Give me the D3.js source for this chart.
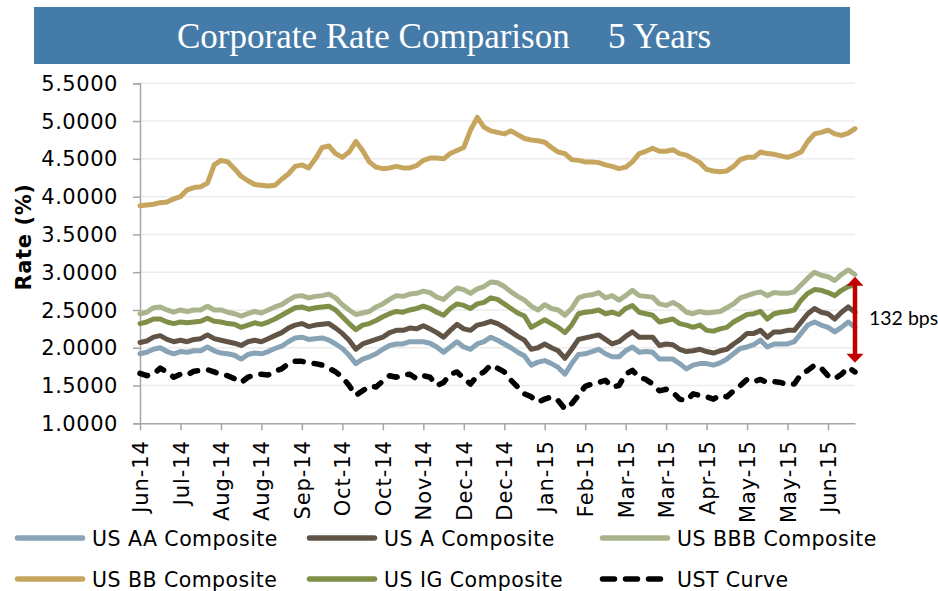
<!DOCTYPE html>
<html>
<head>
<meta charset="utf-8">
<script src="https://cdn.jsdelivr.net/npm/d3@7"></script>
<style>
  html, body { margin: 0; padding: 0; background: #fff; }
  svg { display: block; }
</style>
</head>
<body>
<svg id="chart" width="938" height="591"></svg>
<script>
// ---------------- DATA ----------------
const titleMain = "Corporate Rate Comparison";
const titleSub = "5 Years";
const yAxisTitle = "Rate (%)";
const xTickLabels = ["Jun-14","Jul-14","Aug-14","Aug-14","Sep-14","Oct-14","Oct-14","Nov-14","Dec-14","Dec-14","Jan-15","Feb-15","Mar-15","Mar-15","Apr-15","May-15","May-15","Jun-15"];
const pointsPerTick = 6;
const yTickValues = [1.0,1.5,2.0,2.5,3.0,3.5,4.0,4.5,5.0,5.5];

const seriesNames = ["US AA Composite","US A Composite","US BBB Composite","US BB Composite","US IG Composite","UST Curve"];

const usAA = [1.92,1.94,1.98,2.00,1.95,1.92,1.95,1.94,1.96,1.96,2.01,1.96,1.93,1.92,1.90,1.85,1.91,1.93,1.92,1.95,1.99,2.02,2.08,2.13,2.14,2.11,2.12,2.13,2.10,2.05,1.99,1.90,1.79,1.85,1.88,1.92,1.98,2.03,2.05,2.05,2.08,2.08,2.08,2.06,2.01,1.94,2.01,2.08,2.01,1.98,2.05,2.08,2.14,2.10,2.05,2.00,1.94,1.89,1.77,1.81,1.83,1.79,1.74,1.65,1.79,1.91,1.92,1.95,1.98,1.92,1.88,1.88,1.96,2.01,1.94,1.95,1.94,1.85,1.85,1.85,1.79,1.72,1.77,1.79,1.79,1.77,1.80,1.85,1.92,1.99,2.01,2.04,2.10,2.01,2.05,2.05,2.05,2.08,2.19,2.30,2.34,2.30,2.27,2.21,2.27,2.34,2.27];

const usA = [2.07,2.09,2.14,2.16,2.11,2.08,2.10,2.08,2.11,2.12,2.17,2.12,2.10,2.08,2.06,2.03,2.08,2.10,2.08,2.12,2.16,2.20,2.26,2.30,2.32,2.28,2.30,2.31,2.32,2.26,2.19,2.10,1.98,2.05,2.08,2.11,2.14,2.20,2.23,2.23,2.26,2.25,2.29,2.25,2.20,2.14,2.23,2.31,2.25,2.23,2.30,2.32,2.35,2.32,2.27,2.21,2.15,2.10,1.98,2.00,2.05,2.00,1.96,1.86,1.98,2.11,2.13,2.15,2.17,2.11,2.05,2.08,2.15,2.21,2.14,2.14,2.14,2.03,2.05,2.04,1.98,1.95,1.96,1.98,1.95,1.93,1.96,1.98,2.05,2.11,2.19,2.19,2.23,2.14,2.21,2.21,2.23,2.23,2.34,2.45,2.52,2.47,2.45,2.38,2.47,2.54,2.47];

const usBBB = [2.45,2.47,2.53,2.54,2.50,2.47,2.50,2.48,2.50,2.50,2.55,2.50,2.50,2.47,2.45,2.42,2.45,2.48,2.46,2.50,2.54,2.57,2.63,2.68,2.69,2.66,2.68,2.69,2.71,2.66,2.57,2.50,2.44,2.46,2.48,2.54,2.58,2.64,2.69,2.68,2.71,2.72,2.75,2.73,2.67,2.64,2.72,2.79,2.77,2.72,2.78,2.81,2.87,2.86,2.81,2.74,2.68,2.63,2.55,2.50,2.57,2.52,2.50,2.43,2.52,2.66,2.69,2.70,2.73,2.66,2.69,2.63,2.69,2.76,2.69,2.68,2.67,2.58,2.56,2.60,2.55,2.47,2.45,2.48,2.46,2.47,2.48,2.53,2.58,2.66,2.69,2.72,2.74,2.69,2.73,2.72,2.72,2.74,2.83,2.92,3.00,2.96,2.94,2.89,2.97,3.03,2.97];

const usBB = [3.88,3.89,3.90,3.92,3.93,3.97,4.00,4.09,4.12,4.13,4.18,4.42,4.48,4.46,4.37,4.27,4.21,4.16,4.15,4.14,4.15,4.23,4.30,4.40,4.42,4.38,4.50,4.65,4.67,4.57,4.52,4.59,4.73,4.61,4.46,4.39,4.37,4.38,4.40,4.38,4.38,4.41,4.48,4.51,4.51,4.50,4.57,4.61,4.65,4.88,5.05,4.92,4.87,4.85,4.83,4.87,4.82,4.77,4.75,4.74,4.72,4.65,4.59,4.57,4.49,4.48,4.46,4.46,4.45,4.42,4.40,4.37,4.39,4.46,4.57,4.60,4.64,4.60,4.60,4.62,4.57,4.55,4.50,4.45,4.36,4.34,4.33,4.34,4.40,4.49,4.52,4.52,4.59,4.57,4.56,4.54,4.52,4.55,4.59,4.73,4.83,4.85,4.88,4.83,4.81,4.84,4.90];

const usIG = [2.32,2.34,2.38,2.38,2.34,2.32,2.34,2.33,2.34,2.35,2.39,2.35,2.34,2.32,2.31,2.27,2.30,2.33,2.31,2.34,2.38,2.43,2.48,2.53,2.54,2.51,2.53,2.54,2.55,2.50,2.41,2.32,2.24,2.30,2.32,2.36,2.41,2.45,2.48,2.47,2.50,2.52,2.55,2.52,2.47,2.43,2.52,2.58,2.56,2.52,2.58,2.60,2.66,2.64,2.58,2.52,2.46,2.42,2.27,2.32,2.37,2.32,2.27,2.20,2.30,2.45,2.47,2.48,2.50,2.45,2.47,2.44,2.52,2.56,2.47,2.45,2.43,2.34,2.36,2.38,2.32,2.30,2.27,2.30,2.23,2.22,2.25,2.27,2.34,2.39,2.44,2.45,2.48,2.38,2.45,2.47,2.48,2.50,2.63,2.72,2.77,2.76,2.73,2.69,2.76,2.81,2.83];

const ustCurve = [1.66,1.63,1.65,1.73,1.68,1.61,1.65,1.64,1.69,1.70,1.71,1.68,1.65,1.63,1.59,1.54,1.61,1.64,1.65,1.64,1.69,1.72,1.79,1.82,1.82,1.80,1.79,1.77,1.73,1.68,1.61,1.50,1.37,1.43,1.49,1.48,1.56,1.63,1.61,1.64,1.65,1.59,1.63,1.61,1.50,1.54,1.65,1.68,1.59,1.52,1.63,1.68,1.77,1.73,1.68,1.57,1.48,1.39,1.35,1.28,1.32,1.35,1.30,1.19,1.26,1.37,1.49,1.52,1.54,1.57,1.48,1.50,1.65,1.70,1.61,1.58,1.52,1.43,1.45,1.41,1.32,1.30,1.39,1.37,1.35,1.32,1.37,1.35,1.43,1.50,1.58,1.55,1.58,1.54,1.55,1.54,1.51,1.52,1.65,1.70,1.77,1.73,1.63,1.59,1.65,1.74,1.68];

const spreadLabel = "132 bps";
const spreadArrowRange = [2.94, 1.80];

// ---------------- STYLE ----------------
const colors = ["#87a3b5", "#615446", "#aab48c", "#c6a65e", "#7f8f48", "#000000"];
const seriesData = [usAA, usA, usBBB, usBB, usIG, ustCurve];

const svg = d3.select("#chart");
const plot = { left: 140, right: 855, top: 83.3, bottom: 423.3 };

// Title banner
svg.append("rect").attr("x", 34).attr("y", 7).attr("width", 816).attr("height", 57).attr("fill", "#457ba9");
svg.append("text").attr("x", 177).attr("y", 48)
  .attr("font-family", "Liberation Serif, DejaVu Serif, serif").attr("font-size", 35)
  .attr("fill", "#fff").text(titleMain);
svg.append("text").attr("x", 608).attr("y", 48)
  .attr("font-family", "Liberation Serif, DejaVu Serif, serif").attr("font-size", 35)
  .attr("fill", "#fff").text(titleSub);

// Scales
const n = usBB.length;
const x = d3.scaleLinear().domain([0, n - 1]).range([plot.left, plot.right]);
const y = d3.scaleLinear().domain([1, 5.5]).range([plot.bottom, plot.top]);

// Gridlines
svg.append("g").selectAll("line").data(yTickValues.filter(v => v > 1)).join("line")
  .attr("x1", plot.left).attr("x2", plot.right)
  .attr("y1", d => y(d)).attr("y2", d => y(d))
  .attr("stroke", "#ececec").attr("stroke-width", 1.5);

const axisFont = "DejaVu Sans, Verdana, sans-serif";

// Y axis
const yAxis = svg.append("g").attr("transform", `translate(${plot.left},0)`)
  .call(d3.axisLeft(y).tickValues(yTickValues).tickFormat(d3.format(".4f")).tickSize(7).tickPadding(15));
yAxis.select(".domain").attr("stroke", "#a6a6a6").attr("stroke-width", 1.5);
yAxis.selectAll(".tick line").attr("stroke", "#a6a6a6").attr("stroke-width", 1.5);
yAxis.selectAll(".tick text").attr("font-family", axisFont).attr("font-size", 21)
  .attr("letter-spacing", "0.55px").attr("fill", "#000").attr("dy", "0.34em");

// X axis
const xTickIdx = xTickLabels.map((_, i) => i * pointsPerTick);
const xAxis = svg.append("g").attr("transform", `translate(0,${plot.bottom})`)
  .call(d3.axisBottom(x).tickValues(xTickIdx).tickFormat((d) => xTickLabels[d / pointsPerTick]).tickSize(7).tickPadding(10).tickSizeOuter(0));
xAxis.select(".domain").attr("stroke", "#a6a6a6").attr("stroke-width", 1.5);
xAxis.selectAll(".tick line").attr("stroke", "#a6a6a6").attr("stroke-width", 1.5);
xAxis.selectAll(".tick text")
  .attr("font-family", axisFont).attr("font-size", 21).attr("letter-spacing", "0.9px").attr("fill", "#000")
  .attr("transform", "rotate(-90)")
  .attr("text-anchor", "end")
  .attr("x", -17).attr("y", 0).attr("dy", "0.36em");

// Y axis title
svg.append("text").attr("transform", "translate(31,237) rotate(-90)")
  .attr("text-anchor", "middle")
  .attr("font-family", axisFont).attr("font-weight", "bold").attr("font-size", 21)
  .attr("letter-spacing", "0.6px")
  .attr("fill", "#000").text(yAxisTitle);

// Lines
const line = d3.line().x((d, i) => x(i)).y(d => y(d)).curve(d3.curveLinear);
seriesData.forEach((s, k) => {
  const p = svg.append("path").datum(s)
    .attr("d", line).attr("fill", "none")
    .attr("stroke", colors[k]).attr("stroke-width", 5)
    .attr("stroke-linejoin", "round").attr("stroke-linecap", "round");
  if (k === 5) p.attr("stroke-dasharray", "8,11").attr("stroke-width", 5.5);
});

// Spread arrow
const ax = plot.right;
const yTop = y(spreadArrowRange[0]), yBot = y(spreadArrowRange[1]);
const headL = 9, headW = 8.5;
svg.append("line").attr("x1", ax).attr("x2", ax).attr("y1", yTop + headL - 1).attr("y2", yBot - headL + 1)
  .attr("stroke", "#c00000").attr("stroke-width", 4.5);
svg.append("path").attr("d", `M${ax},${yTop} L${ax + headW},${yTop + headL} L${ax - headW},${yTop + headL} Z`).attr("fill", "#c00000");
svg.append("path").attr("d", `M${ax},${yBot} L${ax + headW},${yBot - headL} L${ax - headW},${yBot - headL} Z`).attr("fill", "#c00000");
svg.append("text").attr("x", 869).attr("y", 325)
  .attr("font-family", "Lato, Noto Sans, sans-serif").attr("font-size", 19.5)
  .attr("fill", "#000").text(spreadLabel);

// Legend
const legendPos = [[15, 538], [307, 538], [600, 538], [15, 579], [307, 579], [600, 579]];
seriesNames.forEach((name, k) => {
  const [lx, ly] = legendPos[k];
  const g = svg.append("g");
  const ln = g.append("line").attr("x1", lx + 2.5).attr("x2", lx + 67.5).attr("y1", ly).attr("y2", ly)
    .attr("stroke", colors[k]).attr("stroke-width", 5.5).attr("stroke-linecap", "round");
  if (k === 5) ln.attr("stroke-dasharray", "12,11").attr("x2", lx + 69);
  g.append("text").attr("x", lx + 77).attr("y", ly + 7.5)
    .attr("font-family", axisFont).attr("font-size", 20.5).attr("letter-spacing", "0.45px")
    .attr("fill", "#000").text(name);
});
</script>
</body>
</html>
